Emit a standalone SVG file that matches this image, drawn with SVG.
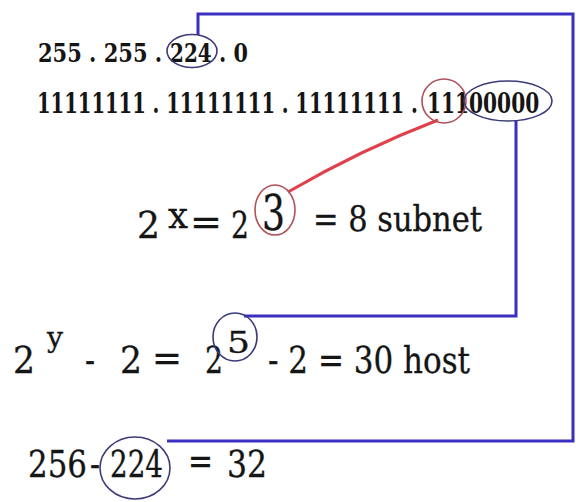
<svg xmlns="http://www.w3.org/2000/svg" width="576" height="502" viewBox="0 0 576 502">
<style>
text{font-family:"DejaVu Serif","Liberation Serif",serif;font-stretch:condensed;fill:#151515}
.b{font-weight:bold}
.s{stroke:#151515;stroke-width:0.3}
.ov{fill:none;stroke:#3c3a78;stroke-width:1.6}
.rc{fill:none;stroke:#b0505a;stroke-width:1.6}
.bl{fill:none;stroke:#3a2fc0;stroke-width:3}
</style>
<rect width="576" height="502" fill="#fff"/>
<g id="connectors">
<path class="bl" d="M198,35 V14 H573 V441 H167"/>
<path class="bl" d="M516,121 V316 H244"/>
<path d="M288,192 Q360,150 438,120" fill="none" stroke="#e0404c" stroke-width="3"/>
</g>
<g id="mask-line">
<text class="b" transform="translate(38,62) scale(0.85,1)" font-size="26" textLength="146" lengthAdjust="spacingAndGlyphs">255 . 255 .</text>
<text class="b" transform="translate(170,62) scale(0.85,1)" font-size="26" textLength="49" lengthAdjust="spacingAndGlyphs">224</text>
<text class="b" transform="translate(219,62) scale(0.85,1)" font-size="26" textLength="34" lengthAdjust="spacingAndGlyphs">. 0</text>
<ellipse class="ov" cx="192" cy="51" rx="25" ry="16.5"/>
</g>
<g id="binary-line">
<text class="b" transform="translate(37,113) scale(0.76,1)" font-size="27" textLength="501" lengthAdjust="spacingAndGlyphs">11111111 . 11111111 . 11111111 .</text>
<text class="b" transform="translate(427,113) scale(0.85,1)" font-size="27" textLength="132" lengthAdjust="spacingAndGlyphs">11100000</text>
<circle class="rc" cx="444" cy="101" r="22"/>
<ellipse class="ov" cx="508" cy="101" rx="44" ry="20"/>
</g>
<g id="subnet-formula">
<text class="s" x="137" y="238" font-size="38" textLength="23" lengthAdjust="spacingAndGlyphs">2</text>
<text class="s" x="168" y="228" font-size="38" textLength="20" lengthAdjust="spacingAndGlyphs">x</text>
<text class="s" x="190" y="235" font-size="38" textLength="32" lengthAdjust="spacingAndGlyphs">=</text>
<text class="s" x="231" y="238" font-size="38" textLength="18" lengthAdjust="spacingAndGlyphs">2</text>
<text class="s" x="262" y="230" font-size="48" textLength="23" lengthAdjust="spacingAndGlyphs">3</text>
<ellipse class="rc" cx="275" cy="210" rx="20" ry="25"/>
<text class="s" x="313" y="231" font-size="36" textLength="169" lengthAdjust="spacingAndGlyphs">= 8 subnet</text>
</g>
<g id="host-formula">
<text class="s" x="13" y="373" font-size="38" textLength="22" lengthAdjust="spacingAndGlyphs">2</text>
<text class="s" x="47" y="347" font-size="27" textLength="16" lengthAdjust="spacingAndGlyphs">y</text>
<text class="s" x="85" y="373" font-size="38" textLength="10" lengthAdjust="spacingAndGlyphs">-</text>
<text class="s" x="120" y="373" font-size="38" textLength="22" lengthAdjust="spacingAndGlyphs">2</text>
<text class="s" x="152" y="371" font-size="38" textLength="30" lengthAdjust="spacingAndGlyphs">=</text>
<text class="s" x="205" y="373" font-size="38" textLength="18" lengthAdjust="spacingAndGlyphs">2</text>
<text class="s" x="227" y="353" font-size="29" textLength="23" lengthAdjust="spacingAndGlyphs">5</text>
<ellipse class="ov" cx="235" cy="337" rx="22" ry="24"/>
<text class="s" x="268" y="373" font-size="38" textLength="202" lengthAdjust="spacingAndGlyphs">- 2 = 30 host</text>
</g>
<g id="block-formula">
<text class="s" x="28" y="477" font-size="37" textLength="59" lengthAdjust="spacingAndGlyphs">256</text>
<text class="s" x="90" y="477" font-size="37" textLength="10" lengthAdjust="spacingAndGlyphs">-</text>
<text class="s" x="110" y="477" font-size="37" textLength="53" lengthAdjust="spacingAndGlyphs">224</text>
<ellipse class="ov" cx="135" cy="468" rx="35" ry="31"/>
<text class="s" x="188" y="474" font-size="37" textLength="25" lengthAdjust="spacingAndGlyphs">=</text>
<text class="s" x="227" y="477" font-size="37" textLength="40" lengthAdjust="spacingAndGlyphs">32</text>
</g>
</svg>
